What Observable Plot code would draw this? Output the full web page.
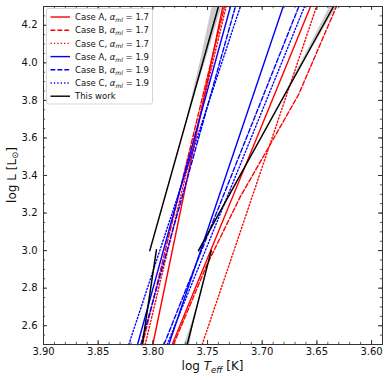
<!DOCTYPE html>
<html><head><meta charset="utf-8">
<script src="https://cdn.jsdelivr.net/npm/d3@7"></script>
<script src="https://cdn.jsdelivr.net/npm/@observablehq/plot@0.6"></script>
<style>body{margin:0;background:#fff}</style>
</head><body><div id="chart"></div>
<script>
// ---- layout ----
const W = 390, H = 380, mt = 6, mr = 8, mb = 36, ml = 43;
const plotW = W - ml - mr, plotH = H - mt - mb;

// ---- axes ----
const xDomain = [3.90, 3.59];
const yDomain = [2.5, 4.3];
const xTicks = [3.90, 3.85, 3.80, 3.75, 3.70, 3.65, 3.60];
const yTicks = [2.6, 2.8, 3.0, 3.2, 3.4, 3.6, 3.8, 4.0, 4.2];
const xMinor = d3.range(359, 391).map(d => d / 100);
const yMinor = d3.range(250, 431, 5).map(d => d / 100);

// ---- series: each a list of tracks, each track [logTeff, logL] points ----
const seriesKeys   = ["A17", "B17", "C17", "A19", "B19", "C19"];
const seriesCase   = ["Case A", "Case B", "Case C", "Case A", "Case B", "Case C"];
const seriesAlpha  = ["1.7", "1.7", "1.7", "1.9", "1.9", "1.9"];
const seriesColor  = ["red", "red", "red", "blue", "blue", "blue"];
const seriesDash   = [null, "4.8,2.1", "1.3,2.1", null, "4.8,2.1", "1.3,2.1"];

const caseA17 = [[[3.800, 2.5], [3.736, 4.3]],
                 [[3.7823, 2.5], [3.6558, 4.3]]];
const caseB17 = [[[3.8095, 2.5], [3.7345, 4.3]],
                 [[3.7811, 2.5], [3.7509, 2.92], [3.7198, 3.29], [3.6961, 3.53], [3.6668, 3.83], [3.6321, 4.3]]];
const caseC17 = [[[3.807, 2.5], [3.733, 4.3]],
                 [[3.7549, 2.5], [3.6503, 4.3]]];
const caseA19 = [[[3.814, 2.5], [3.729, 4.3]],
                 [[3.7854, 2.5], [3.6808, 4.3]]];
const caseB19 = [[[3.811, 2.5], [3.7245, 4.3]],
                 [[3.7898, 2.5], [3.6665, 4.3]]];
const caseC19 = [[[3.822, 2.5], [3.720, 4.3]],
                 [[3.7869, 2.5], [3.6613, 4.3]]];
const thisWork = [[[3.8097, 2.5], [3.7967, 3.005]],
                  [[3.8028, 3.0], [3.740, 4.3]],
                  [[3.7686, 2.5], [3.7466, 3.0]],
                  [[3.7583, 3.0], [3.6348, 4.3]]];
// uncertainty bands: [logL, logTeff edge 1, logTeff edge 2]
const bandUpperLeft  = [[3.7, 3.7690, 3.7690], [4.0, 3.7568, 3.7522], [4.3, 3.7457, 3.7366]];
const bandUpperRight = [[3.8, 3.6824, 3.6824], [4.05, 3.6600, 3.6572], [4.3, 3.6380, 3.6316]];
const bandLowerRight = [[2.5, 3.7713, 3.7659], [2.6, 3.7651, 3.7633], [2.7, 3.7598, 3.7598]];

const seriesTracks = [caseA17, caseB17, caseC17, caseA19, caseB19, caseC19];

function toRows(tracks) {
  return tracks.flatMap((tr, ti) => tr.map(([teff, logL]) => ({track: ti, teff, logL})));
}
const bandRows = [bandUpperLeft, bandUpperRight, bandLowerRight]
  .flatMap((b, bi) => b.map(([logL, x1, x2]) => ({band: bi, logL, x1, x2})));

const marks = [
  Plot.areaX(bandRows, {y: "logL", x1: "x1", x2: "x2", z: "band", fill: "#c6c6c6", fillOpacity: 0.9}),
  ...seriesTracks.map((tr, i) => Plot.line(toRows(tr), {
    x: "teff", y: "logL", z: "track", stroke: seriesColor[i], strokeWidth: 1.4,
    strokeDasharray: seriesDash[i] || undefined
  })),
  Plot.line(toRows(thisWork), {x: "teff", y: "logL", z: "track", stroke: "black", strokeWidth: 1.5}),
  // inward ticks on all four sides
  Plot.tickX(xTicks, {x: d => d, stroke: "#333", insetTop: plotH - 4}),
  Plot.tickX(xTicks, {x: d => d, stroke: "#333", insetBottom: plotH - 4}),
  Plot.tickX(xMinor, {x: d => d, stroke: "#333", strokeWidth: 0.8, insetTop: plotH - 2.2}),
  Plot.tickX(xMinor, {x: d => d, stroke: "#333", strokeWidth: 0.8, insetBottom: plotH - 2.2}),
  Plot.tickY(yTicks, {y: d => d, stroke: "#333", insetRight: plotW - 4}),
  Plot.tickY(yTicks, {y: d => d, stroke: "#333", insetLeft: plotW - 4}),
  Plot.tickY(yMinor, {y: d => d, stroke: "#333", strokeWidth: 0.8, insetRight: plotW - 2.2}),
  Plot.tickY(yMinor, {y: d => d, stroke: "#333", strokeWidth: 0.8, insetLeft: plotW - 2.2}),
  // tick labels
  Plot.text(xTicks, {x: d => d, frameAnchor: "bottom", lineAnchor: "top", dy: 3.5,
    text: d => d3.format(".2f")(d), fontSize: 10, fill: "#111"}),
  Plot.text(yTicks, {y: d => d, frameAnchor: "left", textAnchor: "end", dx: -6,
    text: d => d3.format(".1f")(d), fontSize: 10, fill: "#111"}),
  Plot.frame({stroke: "#333", strokeWidth: 1})
];

const svg = Plot.plot({
  width: W, height: H,
  marginTop: mt, marginRight: mr, marginBottom: mb, marginLeft: ml,
  x: {domain: xDomain, axis: null},
  y: {domain: yDomain, axis: null},
  style: {fontFamily: "DejaVu Sans", background: "white"},
  marks
});

const S = d3.select(svg);
// axis labels
const xl = S.append("text").attr("x", ml + plotW / 2).attr("y", 370)
  .attr("text-anchor", "middle").attr("font-family", "DejaVu Sans").attr("font-size", 12).attr("fill", "#111");
xl.append("tspan").text("log ");
xl.append("tspan").attr("font-style", "italic").text("T");
xl.append("tspan").attr("font-style", "italic").attr("font-size", 8.5).attr("dy", 2.5).text("eff");
xl.append("tspan").attr("dy", -2.5).text(" [K]");

const yl = S.append("text").attr("transform", `translate(15.5,${mt + plotH / 2}) rotate(-90)`)
  .attr("text-anchor", "middle").attr("font-family", "DejaVu Sans").attr("font-size", 12).attr("fill", "#111");
yl.append("tspan").text("log L [L");
yl.append("tspan").attr("font-size", 8.5).attr("dy", 2.5).text("⊙");
yl.append("tspan").attr("dy", -2.5).text("]");

// legend
const lg = S.append("g").attr("font-family", "DejaVu Sans").attr("font-size", 8.5)
  .attr("fill", "#111").attr("text-anchor", "start");
lg.append("rect").attr("x", 46.5).attr("y", 8.5).attr("width", 106).attr("height", 95.5).attr("rx", 2)
  .attr("fill", "white").attr("fill-opacity", 0.8).attr("stroke", "#cccccc").attr("stroke-width", 0.8);
const legendItems = seriesKeys.map((k, i) => ({color: seriesColor[i], dash: seriesDash[i], cs: seriesCase[i], a: seriesAlpha[i]}));
legendItems.push({color: "black", dash: null, cs: "This work", a: null});
legendItems.forEach((it, i) => {
  const yy = 17 + i * 13.2;
  lg.append("line").attr("x1", 50.5).attr("x2", 70).attr("y1", yy).attr("y2", yy)
    .attr("stroke", it.color).attr("stroke-width", 1.4).attr("stroke-dasharray", it.dash);
  const t = lg.append("text").attr("x", 75).attr("y", yy + 3.1).attr("text-anchor", "start");
  if (it.a === null) { t.text(it.cs); return; }
  t.append("tspan").text(it.cs + ", ");
  t.append("tspan").attr("font-style", "italic").text("α");
  t.append("tspan").attr("font-style", "italic").attr("font-size", 6).attr("dy", 1.8).text("ml");
  t.append("tspan").attr("dy", -1.8).text(" = " + it.a);
});

document.getElementById("chart").appendChild(svg);
</script>
</body></html>
